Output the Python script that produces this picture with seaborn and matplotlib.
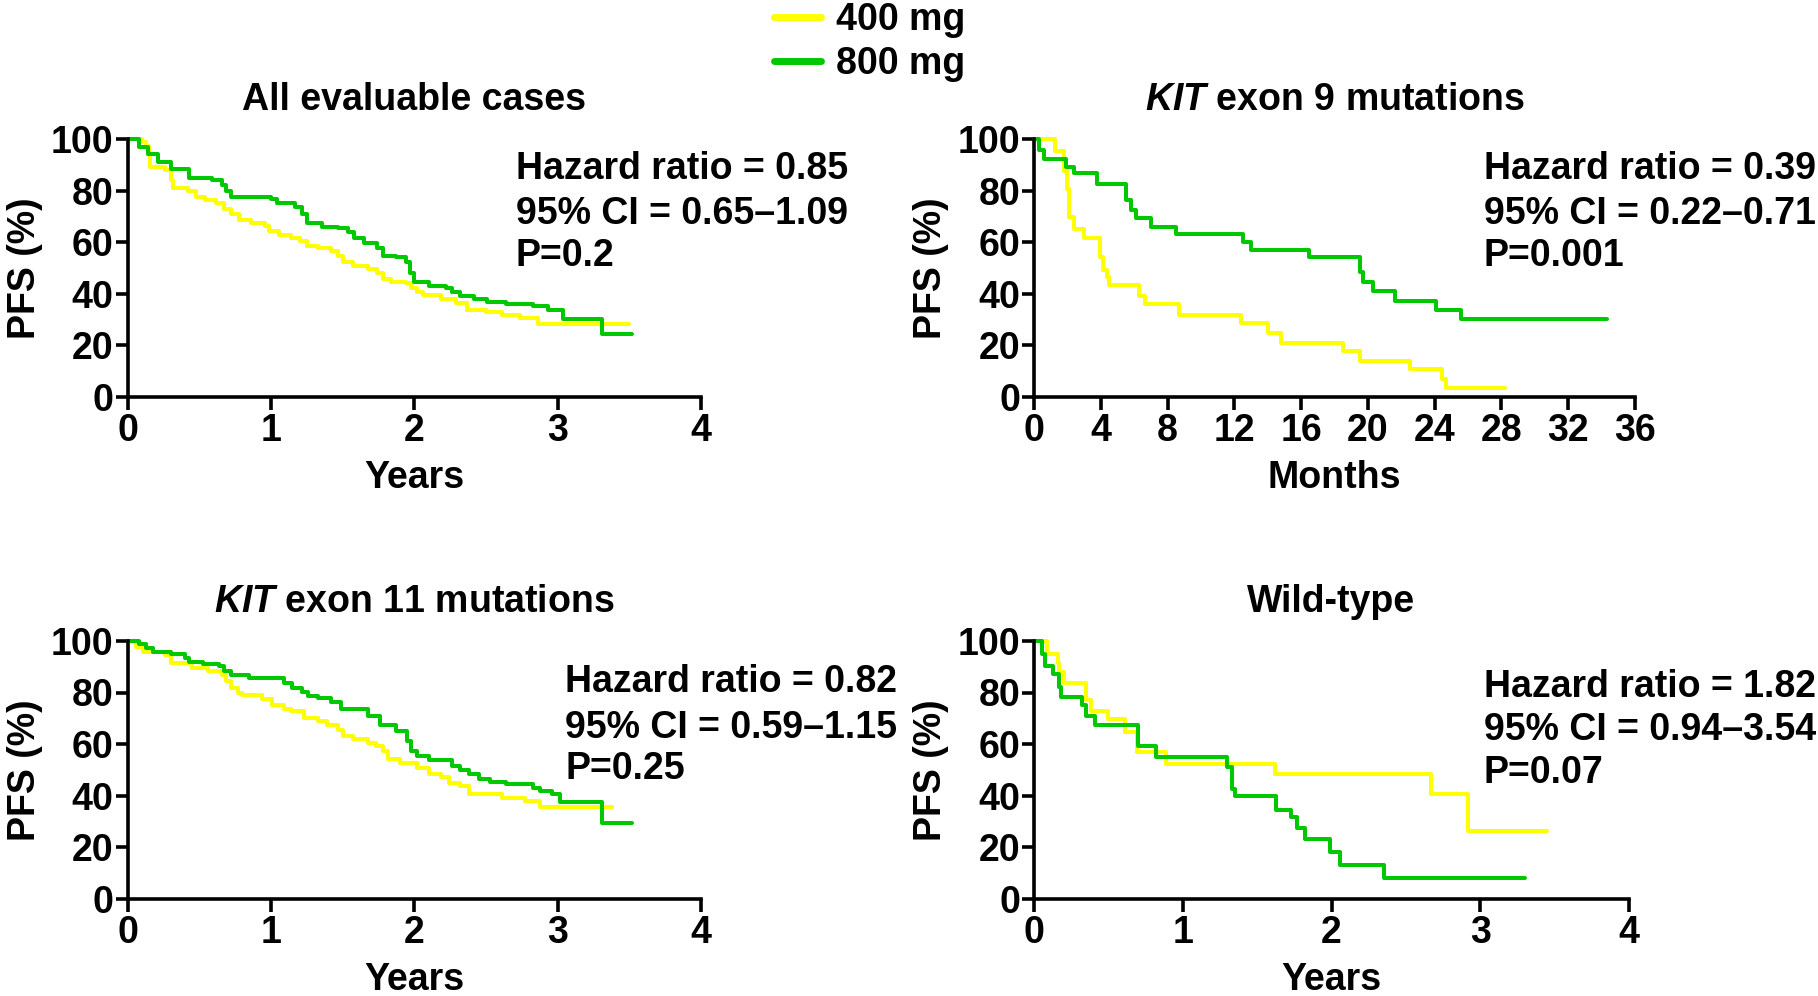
import matplotlib
matplotlib.use("Agg")
import matplotlib.pyplot as plt
import seaborn as sns
import pandas as pd

# ---------------- data ----------------
series_names = ["400 mg", "800 mg"]
series_colors = ["#FFFF00", "#00C800"]

# Panel 1: All evaluable cases (years)
p1_400_t = [0, 0.10, 0.13, 0.15, 0.16, 0.26, 0.30, 0.32, 0.42, 0.48, 0.54, 0.62, 0.67, 0.72, 0.78,
            0.86, 0.96, 0.99, 1.06, 1.14, 1.20, 1.25, 1.33, 1.42, 1.47, 1.50, 1.57, 1.68, 1.74,
            1.78, 1.84, 1.94, 1.98, 2.02, 2.06, 2.19, 2.29, 2.37, 2.50, 2.61, 2.74, 2.86, 3.50]
p1_400_s = [100, 98.7, 97.4, 94, 89, 88, 84, 80.8, 79.7, 77.5, 76.3, 75, 73, 71, 68.6,
            67.3, 66.3, 64.1, 62.8, 61.5, 60.3, 58.6, 57.7, 56.4, 54.5, 52.2, 50.6, 49.4, 48,
            45.8, 44.5, 44, 42.3, 40.4, 39.4, 37.8, 36.5, 33.7, 32.7, 31.7, 30.4, 28.2, 28.2]
p1_800_t = [0, 0.08, 0.14, 0.21, 0.30, 0.43, 0.59, 0.66, 0.69, 0.72, 1.00, 1.04, 1.17, 1.22, 1.25,
            1.36, 1.47, 1.54, 1.58, 1.65, 1.74, 1.78, 1.87, 1.94, 1.97, 2.00, 2.10, 2.22, 2.26,
            2.32, 2.42, 2.51, 2.64, 2.83, 2.93, 3.04, 3.31, 3.52]
p1_800_s = [100, 97, 94, 91, 88.5, 85, 84, 82, 79.7, 77.5, 76.7, 75, 73.5, 71, 67.3,
            66, 65.4, 64, 61.5, 59.6, 57.7, 54.5, 54, 52.2, 48, 44.6, 43, 42.3, 40.4,
            39, 37.8, 36.8, 35.9, 35.3, 33.7, 30.1, 24.4, 24.4]

# Panel 2: KIT exon 9 mutations (months)
p2_400_t = [0, 1.27, 1.81, 1.98, 2.09, 2.38, 2.97, 3.93, 4.16, 4.39, 4.50, 6.28, 6.62, 8.69,
            12.37, 14.0, 14.8, 18.5, 19.5, 22.5, 24.45, 24.7, 28.2]
p2_400_s = [100, 95.5, 87.7, 80.6, 69.7, 65.2, 61.7, 54.2, 49.3, 46.5, 43.2, 39, 36.1, 31.6,
            28.4, 24.5, 20.9, 17.8, 13.9, 10.6, 6.7, 3.2, 3.2]
p2_800_t = [0, 0.28, 0.62, 1.9, 2.4, 3.8, 5.5, 5.8, 6.1, 7.0, 8.5, 12.5, 13.0, 16.5, 19.5,
            19.7, 20.3, 21.6, 24.1, 25.6, 34.3]
p2_800_s = [100, 95.7, 92.3, 89, 86.8, 82.6, 76.4, 72.6, 69.4, 66, 63, 60, 57, 54.2, 48.4,
            44.3, 41, 37.2, 33.5, 30, 30]

# Panel 3: KIT exon 11 mutations (years)
p3_400_t = [0, 0.06, 0.11, 0.26, 0.30, 0.45, 0.56, 0.66, 0.69, 0.72, 0.77, 0.80, 0.94, 1.01,
            1.09, 1.14, 1.23, 1.33, 1.39, 1.47, 1.50, 1.57, 1.68, 1.73, 1.78, 1.82, 1.90, 2.02,
            2.10, 2.19, 2.24, 2.32, 2.38, 2.61, 2.77, 2.88, 3.38]
p3_400_s = [100, 97.8, 95.9, 94.6, 91.4, 89.4, 88.2, 86.9, 84.3, 81.7, 79.8, 78.9, 77.6, 75.3,
            73.4, 72.7, 70.1, 68.9, 67.3, 65.6, 63.1, 61.8, 60.5, 59.2, 57.2, 54.1, 52.8, 50.8,
            48.5, 47, 45, 43.7, 40.5, 39.2, 37.9, 35.6, 35.6]
p3_800_t = [0, 0.08, 0.13, 0.18, 0.30, 0.40, 0.43, 0.53, 0.64, 0.67, 0.72, 0.85, 1.09, 1.15,
            1.22, 1.26, 1.33, 1.42, 1.49, 1.68, 1.76, 1.87, 1.95, 1.98, 2.02, 2.10, 2.26, 2.32,
            2.38, 2.45, 2.53, 2.64, 2.83, 2.88, 2.96, 3.02, 3.31, 3.52]
p3_800_s = [100, 98.7, 97.4, 95.9, 94.9, 93.3, 92, 91, 90.1, 88.4, 86.9, 85.8, 83.7, 81.7,
            80.2, 78.5, 77.9, 76.3, 73.7, 70.8, 67.3, 65, 61.1, 57.2, 55.3, 53.7, 51.5, 49.8,
            48.5, 46.3, 45.3, 44.4, 43.1, 41.8, 40.5, 37.3, 29.2, 29.2]

# Panel 4: Wild-type (years)
p4_400_t = [0, 0.085, 0.16, 0.17, 0.20, 0.35, 0.38, 0.50, 0.61, 0.69, 0.89, 1.62, 2.67, 2.92, 3.45]
p4_400_s = [100, 94.8, 91.3, 88.1, 83.8, 77.1, 72.8, 69.7, 64.8, 57, 52.1, 48.2, 40.4, 26.2, 26.2]
p4_800_t = [0, 0.054, 0.076, 0.13, 0.17, 0.18, 0.32, 0.35, 0.41, 0.70, 0.82, 1.30, 1.33, 1.35,
            1.63, 1.73, 1.77, 1.82, 1.99, 2.06, 2.35, 3.30]
p4_800_s = [100, 94.8, 90.4, 87, 82.3, 78.4, 75.1, 71, 67.4, 59.3, 55, 51.2, 42.7, 39.9,
            34.3, 31.7, 27.2, 23.1, 18.1, 13.2, 8.0, 8.0]

titles = ["All evaluable cases", r"$\mathit{KIT}$ exon 9 mutations",
          r"$\mathit{KIT}$ exon 11 mutations", "Wild-type"]
xlabels = ["Years", "Months", "Years", "Years"]
xticks_list = [[0, 1, 2, 3, 4], list(range(0, 37, 4)), [0, 1, 2, 3, 4], [0, 1, 2, 3, 4]]
yticks = [0, 20, 40, 60, 80, 100]
hr_texts = [["Hazard ratio = 0.85", "95% CI = 0.65\u20131.09", "P=0.2"],
            ["Hazard ratio = 0.39", "95% CI = 0.22\u20130.71", "P=0.001"],
            ["Hazard ratio = 0.82", "95% CI = 0.59\u20131.15", "P=0.25"],
            ["Hazard ratio = 1.82", "95% CI = 0.94\u20133.54", "P=0.07"]]

panels = [
    (p1_400_t, p1_400_s, p1_800_t, p1_800_s),
    (p2_400_t, p2_400_s, p2_800_t, p2_800_s),
    (p3_400_t, p3_400_s, p3_800_t, p3_800_s),
    (p4_400_t, p4_400_s, p4_800_t, p4_800_s),
]

# ---------------- style ----------------
sns.set_theme(style="ticks")
plt.rcParams["font.family"] = ["Liberation Sans", "DejaVu Sans"]
plt.rcParams["font.weight"] = "bold"
plt.rcParams["axes.labelweight"] = "bold"
plt.rcParams["axes.titleweight"] = "bold"
plt.rcParams["mathtext.fontset"] = "custom"
plt.rcParams["mathtext.it"] = "Liberation Sans:italic:bold"
plt.rcParams["mathtext.rm"] = "Liberation Sans:bold"
for k in ["text.color", "axes.labelcolor", "xtick.color", "ytick.color",
          "axes.edgecolor", "xtick.labelcolor", "ytick.labelcolor"]:
    plt.rcParams[k] = "black"

FS = 27
W, H = 1818, 996
fig = plt.figure(figsize=(W / 100, H / 100), dpi=100)

# axes boxes in pixels: left, top, right, bottom
boxes = [(127.5, 139, 701, 396.5), (1034, 139, 1635, 396.5),
         (127.5, 641, 701, 898.5), (1034, 641, 1629, 898.5)]
text_x = [516, 1484, 565, 1484]
text_y = [(169, 214, 256), (169, 214, 256), (682, 728, 769), (687, 730, 773)]

for i, (box, data) in enumerate(zip(boxes, panels)):
    l, t, r, b = box
    ax = fig.add_axes([l / W, 1 - b / H, (r - l) / W, (b - t) / H])
    t4, s4, t8, s8 = data
    for tt, ss, name, col in [(t4, s4, series_names[0], series_colors[0]),
                              (t8, s8, series_names[1], series_colors[1])]:
        df = pd.DataFrame({"t": tt, "s": ss})
        sns.lineplot(data=df, x="t", y="s", ax=ax, color=col, lw=2.9,
                     drawstyle="steps-post", estimator=None, sort=False,
                     label=name if i == 0 else None, legend=False, clip_on=False)
    ax.set_xlim(xticks_list[i][0], xticks_list[i][-1])
    ax.set_ylim(0, 100)
    ax.set_xticks(xticks_list[i])
    ax.set_yticks(yticks)
    ax.tick_params(axis="both", labelsize=FS, width=2.6, length=9, direction="out",
                   color="black", labelcolor="black")
    ax.tick_params(axis="y", pad=1)
    ax.tick_params(axis="x", pad=3)
    for sp in ["top", "right"]:
        ax.spines[sp].set_visible(False)
    for sp in ["left", "bottom"]:
        ax.spines[sp].set_linewidth(2.6)
        ax.spines[sp].set_color("black")
    ax.set_xlabel(xlabels[i], fontsize=FS, labelpad=8, color="black")
    ax.set_ylabel("PFS (%)", fontsize=FS, labelpad=6, color="black")
    ax.set_title(titles[i], fontsize=FS, pad=21, color="black")
    for line, y in zip(hr_texts[i], text_y[i]):
        fig.text(text_x[i] / W, 1 - y / H, line, fontsize=FS, fontweight="bold",
                 va="center", ha="left", color="black")
    if i == 0:
        handles, labels = ax.get_legend_handles_labels()

leg = fig.legend(handles, labels, loc="upper left", bbox_to_anchor=(774 / W, 0.998),
                 frameon=False, fontsize=FS, handlelength=1.25, handletextpad=0.4,
                 labelspacing=0.22, borderaxespad=0, borderpad=0)
for txt in leg.get_texts():
    txt.set_color("black")
for lh in leg.get_lines():
    lh.set_linewidth(5)

fig.savefig("out.png", dpi=100)
